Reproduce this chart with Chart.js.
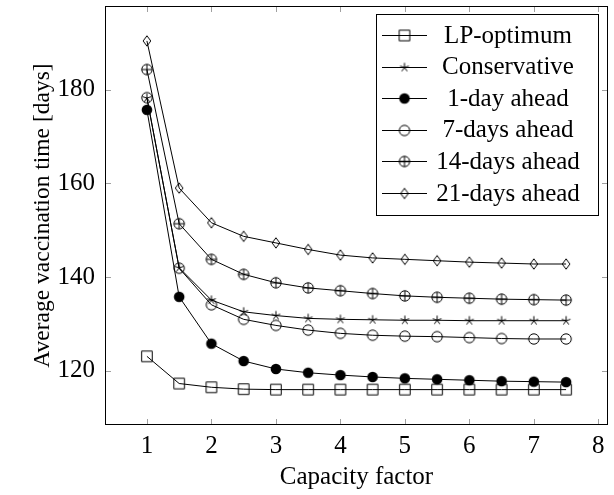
<!DOCTYPE html>
<html>
<head>
<meta charset="utf-8">
<script src="https://cdn.jsdelivr.net/npm/chart.js@4/dist/chart.umd.min.js"></script>
<style>
  html, body { margin: 0; padding: 0; background: #fff; }
  #wrap { width: 614px; height: 495px; }
</style>
</head>
<body>
<div id="wrap"><canvas id="chart" width="614" height="495"></canvas></div>
<script>
// valores
const factores = [1, 1.5, 2, 2.5, 3, 3.5, 4, 4.5, 5, 5.5, 6, 6.5, 7, 7.5];
const xTicks = [1, 2, 3, 4, 5, 6, 7, 8];
const yTicks = [120, 140, 160, 180];

const lpOptimum    = [123.1, 117.3, 116.5, 116.1, 116.0, 116.0, 116.0, 116.0, 116.0, 116.0, 116.0, 116.0, 116.0, 116.0];
const conservative = [178.2, 142.0, 135.1, 132.6, 131.8, 131.2, 131.0, 130.9, 130.8, 130.8, 130.7, 130.7, 130.7, 130.7];
const ahead1       = [175.7, 135.8, 125.8, 122.1, 120.4, 119.6, 119.1, 118.7, 118.4, 118.2, 118.0, 117.8, 117.7, 117.6];
const ahead7       = [178.3, 141.9, 134.1, 131.0, 129.7, 128.7, 128.0, 127.6, 127.4, 127.3, 127.1, 126.9, 126.8, 126.8];
const ahead14      = [184.3, 151.4, 143.8, 140.6, 138.8, 137.7, 137.1, 136.5, 136.0, 135.7, 135.5, 135.3, 135.2, 135.1];
const ahead21      = [190.4, 159.0, 151.6, 148.7, 147.3, 145.9, 144.7, 144.1, 143.8, 143.5, 143.2, 143.0, 142.8, 142.8];

const etiquetas = ['LP-optimum', 'Conservative', '1-day ahead', '7-days ahead', '14-days ahead', '21-days ahead'];
const series = [lpOptimum, conservative, ahead1, ahead7, ahead14, ahead21];

const FUENTE = '"Liberation Serif", "Times New Roman", serif';

// marcadores estilo pgfplots, dibujados en un canvas pequeño
function marcador(tipo) {
    const c = document.createElement('canvas');
    c.width = 18; c.height = 18;
    const g = c.getContext('2d');
    g.strokeStyle = '#000';
    g.fillStyle = '#000';
    g.lineWidth = 1;
    const cx = 9, cy = 9;
    g.beginPath();
    if (tipo === 'square') {
        g.rect(cx - 5.3, cy - 5.3, 10.6, 10.6);
        g.stroke();
    } else if (tipo === 'star') {
        for (let i = 0; i < 5; i++) {
            const a = -Math.PI / 2 + i * 2 * Math.PI / 5;
            g.moveTo(cx, cy);
            g.lineTo(cx + 4.6 * Math.cos(a), cy + 4.6 * Math.sin(a));
        }
        g.stroke();
    } else if (tipo === 'dot') {
        g.arc(cx, cy, 5.3, 0, Math.PI * 2);
        g.fill();
    } else if (tipo === 'circle') {
        g.arc(cx, cy, 5.2, 0, Math.PI * 2);
        g.stroke();
    } else if (tipo === 'oplus') {
        g.arc(cx, cy, 5.2, 0, Math.PI * 2);
        g.moveTo(cx - 5.2, cy); g.lineTo(cx + 5.2, cy);
        g.moveTo(cx, cy - 5.2); g.lineTo(cx, cy + 5.2);
        g.stroke();
    } else if (tipo === 'diamond') {
        g.moveTo(cx, cy - 5.2);
        g.lineTo(cx + 3.8, cy);
        g.lineTo(cx, cy + 5.2);
        g.lineTo(cx - 3.8, cy);
        g.closePath();
        g.stroke();
    }
    return c;
}

const marcadores = ['square', 'star', 'dot', 'circle', 'oplus', 'diamond'].map(marcador);

// marco, ticks hacia dentro y leyenda
const decoracion = {
    id: 'decoracion',
    afterDraw(chart) {
        const ctx = chart.ctx;
        const a = chart.chartArea;
        const sx = chart.scales.x, sy = chart.scales.y;
        ctx.save();
        ctx.strokeStyle = '#a0a0a0';
        ctx.lineWidth = 1;
        ctx.beginPath();
        sx.ticks.forEach(t => {
            const px = Math.round(sx.getPixelForValue(t.value)) + 0.5;
            ctx.moveTo(px, a.bottom); ctx.lineTo(px, a.bottom - 6);
            ctx.moveTo(px, a.top); ctx.lineTo(px, a.top + 6);
        });
        sy.ticks.forEach(t => {
            const py = Math.round(sy.getPixelForValue(t.value)) + 0.5;
            ctx.moveTo(a.left, py); ctx.lineTo(a.left + 6, py);
            ctx.moveTo(a.right, py); ctx.lineTo(a.right - 6, py);
        });
        ctx.stroke();

        ctx.strokeStyle = '#000';
        ctx.strokeRect(Math.round(a.left) + 0.5, Math.round(a.top) + 0.5,
            Math.round(a.right - a.left) - 1, Math.round(a.bottom - a.top) - 1);

        // leyenda
        const lx = a.right - 232, lw = 222;
        const ly = a.top + 8, lh = 201;
        ctx.fillStyle = '#fff';
        ctx.fillRect(lx, ly, lw, lh);
        ctx.strokeRect(lx + 0.5, ly + 0.5, lw, lh);
        ctx.font = '25px ' + FUENTE;
        ctx.textAlign = 'center';
        ctx.textBaseline = 'middle';
        etiquetas.forEach((txt, i) => {
            const y = ly + 21 + i * 31.6;
            ctx.strokeStyle = '#000';
            ctx.beginPath();
            ctx.moveTo(lx + 6, Math.round(y) + 0.5);
            ctx.lineTo(lx + 51, Math.round(y) + 0.5);
            ctx.stroke();
            const m = marcadores[i];
            ctx.drawImage(m, lx + 28.5 - m.width / 2, Math.round(y) + 0.5 - m.height / 2);
            ctx.fillStyle = '#000';
            ctx.fillText(txt, lx + 132, y + 1);
        });
        ctx.restore();
    }
};

const datasets = series.map((vals, i) => ({
    label: etiquetas[i],
    data: vals.map((v, j) => ({ x: factores[j], y: v })),
    borderColor: '#000',
    borderWidth: 1,
    pointStyle: marcadores[i],
    pointRadius: 5,
    pointHoverRadius: 5,
    fill: false,
    tension: 0
}));

new Chart(document.getElementById('chart'), {
    type: 'line',
    data: { datasets },
    options: {
        responsive: false,
        animation: false,
        events: [],
        layout: { padding: { top: 6, right: 5, left: 0, bottom: 0 } },
        plugins: {
            legend: { display: false },
            tooltip: { enabled: false }
        },
        scales: {
            x: {
                type: 'linear',
                min: 0.35,
                max: 8.15,
                afterBuildTicks: s => { s.ticks = xTicks.map(v => ({ value: v })); },
                afterFit: s => {
                    s.height = 70;
                    s.paddingLeft = 0; s.paddingRight = 0;
                },
                grid: { display: false, drawTicks: false },
                border: { display: false },
                ticks: {
                    padding: 6,
                    color: '#000',
                    font: { family: FUENTE, size: 25 },
                    maxRotation: 0
                },
                title: {
                    display: true,
                    text: 'Capacity factor',
                    color: '#000',
                    font: { family: FUENTE, size: 25 },
                    padding: { top: 0, bottom: 3 }
                }
            },
            y: {
                type: 'linear',
                min: 108.45,
                max: 197.85,
                afterBuildTicks: s => { s.ticks = yTicks.map(v => ({ value: v })); },
                afterFit: s => {
                    s.width = 105;
                    s.paddingTop = 0; s.paddingBottom = 0;
                },
                grid: { display: false, drawTicks: false },
                border: { display: false },
                ticks: {
                    padding: 10,
                    color: '#000',
                    font: { family: FUENTE, size: 25 }
                },
                title: {
                    display: true,
                    text: 'Average vaccination time [days]',
                    color: '#000',
                    font: { family: FUENTE, size: 23.5 },
                    padding: { top: 29, bottom: 0 }
                }
            }
        }
    },
    plugins: [decoracion]
});
</script>
</body>
</html>
